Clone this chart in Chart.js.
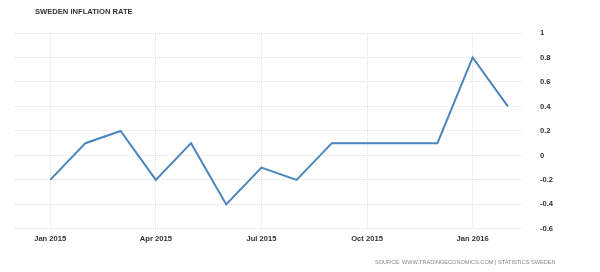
<!DOCTYPE html>
<html>
<head>
<meta charset="utf-8">
<script src="https://cdn.jsdelivr.net/npm/chart.js@4/dist/chart.umd.min.js"></script>
<style>
    body { margin: 0; background: #fff; }
    #wrap { position: relative; width: 600px; height: 272px; }
    #title { position: absolute; left: 35px; top: 7px; font: bold 7.6px "Liberation Sans", sans-serif; color: #333; }
    #source { position: absolute; left: 375px; top: 259px; font: 5.6px "Liberation Sans", sans-serif; color: #888; }
</style>
</head>
<body>
<div id="wrap">
    <canvas id="chart" width="600" height="272"></canvas>
    <div id="title">SWEDEN INFLATION RATE</div>
    <div id="source">SOURCE: WWW.TRADINGECONOMICS.COM | STATISTICS SWEDEN</div>
</div>
<script>
'use strict';

// monthly, Jan 2015 .. Feb 2016
const months = ['Jan 2015','Feb 2015','Mar 2015','Apr 2015','May 2015','Jun 2015','Jul 2015',
    'Aug 2015','Sep 2015','Oct 2015','Nov 2015','Dec 2015','Jan 2016','Feb 2016'];
const inflation = [-0.2, 0.1, 0.2, -0.2, 0.1, -0.4, -0.1, -0.2, 0.1, 0.1, 0.1, 0.1, 0.8, 0.4];
const xTicks = [0, 3, 6, 9, 12]; // which months get a label
const yTicks = [-0.6, -0.4, -0.2, 0, 0.2, 0.4, 0.6, 0.8, 1];

const points = inflation.map((v, i) => ({x: i, y: v}));

const gridStyle = {
    color: '#e2e2e2',
    lineWidth: 1,
    drawTicks: false,
};

const ctx = document.getElementById('chart');
const chart = new Chart(ctx, {
    type: 'line',
    data: {
        datasets: [{
            data: points,
            borderColor: '#4a86bc',
            borderWidth: 2,
            pointRadius: 0,
            tension: 0,
            fill: false,
        }]
    },
    options: {
        responsive: false,
        animation: false,
        layout: {padding: {top: 33, left: 15, right: 29, bottom: 24}},
        plugins: {legend: {display: false}, title: {display: false}, tooltip: {enabled: false}},
        scales: {
            x: {
                type: 'linear',
                min: -1,
                max: 13.4,
                afterBuildTicks: axis => { axis.ticks = xTicks.map(v => ({value: v})); },
                grid: Object.assign({}, gridStyle),
                border: {display: false, dash: [1, 1]},
                ticks: {
                    padding: 5,
                    color: '#333',
                    font: {family: 'Liberation Sans', size: 7.6, weight: 'bold'},
                    callback: v => months[v] || '',
                    maxRotation: 0,
                },
            },
            y: {
                position: 'right',
                min: -0.6,
                max: 1,
                afterBuildTicks: axis => { axis.ticks = yTicks.map(v => ({value: v})); },
                grid: Object.assign({}, gridStyle),
                border: {display: false, dash: [1, 1]},
                ticks: {
                    padding: 18,
                    color: '#333',
                    font: {family: 'Liberation Sans', size: 7.6, weight: 'bold'},
                    callback: v => String(Number(v.toFixed(1))),
                },
            },
        },
    },
});
</script>
</body>
</html>
